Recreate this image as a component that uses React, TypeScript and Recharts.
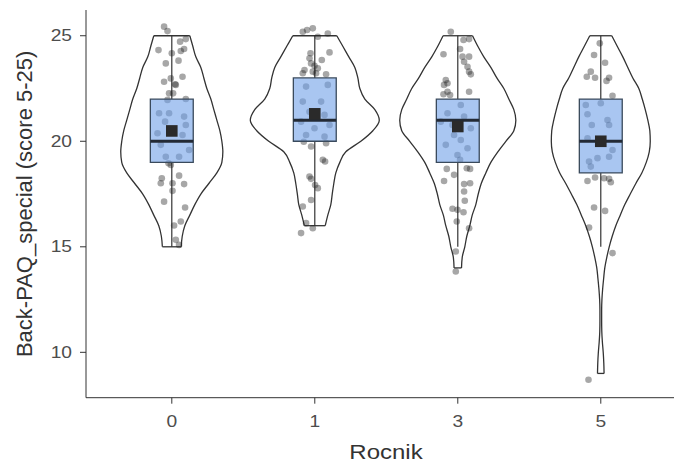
import {
  ComposedChart,
  Scatter,
  XAxis,
  YAxis,
  ReferenceLine,
  ReferenceArea,
  Label,
} from 'recharts'

const groups = ['0', '1', '3', '5']

// violin outlines: y levels and half widths (in category units)
const levels0 = [15, 15.5, 16, 16.5, 17, 17.5, 18, 18.5, 19, 19.5, 20, 20.5, 21, 21.5, 22, 22.5, 23, 23.5, 24, 24.5, 25]
const half0 = [0.066, 0.073, 0.091, 0.126, 0.161, 0.203, 0.259, 0.315, 0.35, 0.357, 0.35, 0.336, 0.315, 0.294, 0.273, 0.245, 0.224, 0.203, 0.168, 0.147, 0.126]

const levels1 = [16, 16.5, 17, 17.5, 18, 18.5, 19, 19.5, 20, 20.5, 21, 21.5, 22, 22.5, 23, 23.5, 24, 24.5, 25]
const half1 = [0.073, 0.091, 0.112, 0.122, 0.133, 0.147, 0.175, 0.217, 0.322, 0.406, 0.451, 0.42, 0.35, 0.315, 0.301, 0.28, 0.238, 0.196, 0.154]

const levels3 = [14, 14.5, 15, 15.5, 16, 16.5, 17, 17.5, 18, 18.5, 19, 19.5, 20, 20.5, 21, 21.5, 22, 22.5, 23, 23.5, 24, 24.5, 25]
const half3 = [0.026, 0.031, 0.049, 0.063, 0.084, 0.101, 0.126, 0.143, 0.164, 0.196, 0.231, 0.28, 0.336, 0.392, 0.406, 0.392, 0.357, 0.322, 0.273, 0.231, 0.182, 0.14, 0.103]

const levels5 = [9, 9.5, 10, 10.5, 11, 11.5, 12, 12.5, 13, 13.5, 14, 14.5, 15, 15.5, 16, 16.5, 17, 17.5, 18, 18.5, 19, 19.5, 20, 20.5, 21, 21.5, 22, 22.5, 23, 23.5, 24, 24.5, 25]
const half5 = [0.023, 0.021, 0.017, 0.011, 0.007, 0.006, 0.006, 0.008, 0.013, 0.02, 0.028, 0.042, 0.059, 0.08, 0.105, 0.136, 0.168, 0.206, 0.245, 0.287, 0.318, 0.339, 0.346, 0.343, 0.329, 0.311, 0.29, 0.266, 0.224, 0.189, 0.154, 0.115, 0.077]

// box plot stats
const boxQ1 = [19, 20, 19, 18.5]
const boxMedian = [20, 21, 21, 20]
const boxQ3 = [22, 23, 22, 22]
const whiskerLow = [15, 16, 15, 15]
const whiskerHigh = [25, 25, 25, 25]
const groupMeans = [20.49, 21.3, 20.7, 20.0]

// jittered observations: horizontal offset (category units) and score
const jitterDx0 = [-0.054, -0.03, 0.098, 0.058, -0.093, 0.086, 0.063, 0, -0.042, 0.047, -0.054, -0.007, 0.023, 0.075, -0.019, 0.009, 0.028, 0.098, -0.03, -0.089, -0.019, 0.086, -0.047, 0.098, -0.1, 0.075, -0.077, 0.121, -0.042, 0.051, -0.023, -0.007, -0.07, -0.077, 0.051, 0.005, 0.086, 0.005, -0.054, 0.093, 0.063, 0.016, 0.028, 0.051]
const jitterY0 = [25.43, 25.22, 24.84, 24.72, 24.32, 24.37, 24.28, 24.17, 23.69, 23.82, 22.82, 22.98, 22.7, 23.06, 22.27, 22.27, 22.67, 22.0, 21.96, 21.33, 21.33, 21.17, 20.93, 20.77, 20.38, 20.3, 19.83, 19.59, 19.27, 19.27, 18.96, 18.88, 18.25, 18.01, 18.37, 18.01, 17.97, 17.65, 17.14, 16.86, 16.2, 16.01, 15.33, 15.09]

const jitterDx1 = [-0.084, -0.054, -0.014, 0.091, 0.021, 0.103, -0.03, -0.037, 0.049, -0.026, -0.002, 0.021, -0.072, -0.014, 0.009, 0.079, -0.084, -0.061, 0.091, -0.084, 0.044, -0.037, 0.068, -0.096, 0.103, -0.002, -0.061, 0.068, -0.077, -0.026, 0.079, 0.056, 0.072, -0.037, -0.026, 0.002, 0.021, -0.026, -0.084, -0.061, -0.014, -0.096]
const jitterY1 = [25.19, 25.27, 25.35, 25.11, 24.95, 24.21, 24.17, 23.93, 23.85, 23.69, 23.58, 23.46, 23.38, 23.3, 23.22, 23.17, 23.22, 22.59, 22.67, 21.88, 21.88, 21.4, 21.25, 20.93, 20.77, 20.62, 20.3, 20.22, 19.98, 19.75, 19.91, 19.12, 19.04, 18.33, 18.22, 17.93, 17.78, 17.22, 16.91, 16.12, 15.88, 15.65]

const jitterDx3 = [-0.049, 0.079, 0.04, 0.016, -0.1, 0.033, 0.079, 0.044, 0.068, 0.079, 0.091, -0.084, -0.072, -0.096, -0.072, -0.1, -0.054, 0.079, 0.021, -0.072, 0.044, -0.119, -0.037, 0.091, -0.026, 0.021, -0.084, 0.068, -0.002, 0.016, -0.077, 0.063, 0.086, -0.026, -0.096, 0.044, 0.086, 0.044, 0.049, -0.037, -0.002, 0.04, -0.007, 0.079, -0.014, -0.014]
const jitterY3 = [25.19, 24.84, 24.8, 24.37, 24.12, 24.01, 24.01, 23.77, 23.53, 23.3, 23.17, 22.9, 22.75, 22.67, 22.35, 22.23, 22.19, 22.35, 21.72, 21.33, 21.17, 20.93, 20.77, 20.62, 20.3, 20.06, 19.83, 19.67, 19.35, 19.12, 18.69, 18.72, 18.69, 18.41, 18.12, 17.97, 18.01, 17.62, 17.18, 16.8, 16.75, 16.64, 16.2, 15.88, 14.78, 13.83]

const jitterDx5 = [-0.007, -0.047, 0.03, -0.07, -0.098, -0.04, 0.058, 0.04, 0.082, -0.105, 0, -0.093, 0.047, -0.063, 0.058, -0.093, 0.082, -0.023, 0.058, -0.082, -0.07, -0.093, -0.04, 0.023, 0.058, 0.07, -0.047, 0.03, -0.082, 0.082, -0.086]
const jitterY5 = [24.64, 24.09, 23.72, 23.3, 23.06, 23.01, 23.01, 22.86, 22.16, 21.72, 21.8, 21.28, 21.01, 20.77, 20.77, 20.14, 19.59, 19.2, 19.27, 19.04, 18.8, 18.12, 18.28, 18.25, 18.22, 18.06, 16.86, 16.7, 15.91, 14.7, 8.7]

const BOX_HALF = 0.15
const FONT = '"Liberation Sans", Arial, sans-serif'
const LINE = '#333333'
const STRETCH = 1.2 // text in the picture is a little wider than plain Arial

const violinLevels = [levels0, levels1, levels3, levels5]
const violinHalf = [half0, half1, half3, half5]
const jitterDx = [jitterDx0, jitterDx1, jitterDx3, jitterDx5]
const jitterY = [jitterY0, jitterY1, jitterY3, jitterY5]

const jitterPoints = groups.flatMap((_, g) =>
  jitterY[g].map((y, i) => ({ x: g + 1 + jitterDx[g][i], y }))
)
const meanPoints = groupMeans.map((y, g) => ({ x: g + 1, y }))

const Hidden = () => <g />

const wide = (x: number, y: number) =>
  `translate(${x} ${y}) scale(${STRETCH} 1) translate(${-x} ${-y})`

const XTick = ({ x, y, payload }: any) => (
  <text
    x={x}
    y={y}
    dy="0.71em"
    textAnchor="middle"
    transform={wide(x, y)}
    fill="#4d4d4d"
    fontSize={16}
    fontFamily={FONT}
  >
    {groups[payload.value - 1]}
  </text>
)

const YTick = ({ x, y, payload }: any) => (
  <text
    x={x}
    y={y}
    dy="0.355em"
    textAnchor="end"
    transform={wide(x, y)}
    fill="#4d4d4d"
    fontSize={16}
    fontFamily={FONT}
  >
    {payload.value}
  </text>
)

export default function App() {
  return (
    <div style={{ position: 'absolute', left: 0, top: 0, background: '#fff' }}>
      <ComposedChart width={674} height={463} margin={{ top: 10, right: 0, bottom: 0, left: 0 }}>
        <XAxis
          type="number"
          dataKey="x"
          domain={[0.4, 4.512]}
          allowDataOverflow
          ticks={[1, 2, 3, 4]}
          interval={0}
          height={65.3}
          tickSize={6}
          tickMargin={12}
          stroke={LINE}
          tick={XTick}
        >
          <Label
            content={({ viewBox }: any) => {
              const cx = viewBox.x + viewBox.width / 2 + 6
              const by = viewBox.y + viewBox.height - 4
              return (
                <text
                  x={cx}
                  y={by}
                  textAnchor="middle"
                  transform={wide(cx, by)}
                  fill="#333"
                  fontSize={20}
                  fontFamily={FONT}
                >
                  Rocnik
                </text>
              )
            }}
          />
        </XAxis>
        <YAxis
          type="number"
          dataKey="y"
          domain={[7.85, 26.22]}
          allowDataOverflow
          ticks={[10, 15, 20, 25]}
          interval={0}
          width={86}
          tickSize={6}
          tickMargin={8}
          stroke={LINE}
          tick={YTick}
        >
          <Label
            content={({ viewBox }: any) => {
              const cy = viewBox.y + viewBox.height / 2
              return (
                <text
                  x={32}
                  y={cy}
                  transform={`rotate(-90, 32, ${cy})`}
                  textAnchor="middle"
                  fill="#333"
                  fontSize={22}
                  fontFamily={FONT}
                >
                  Back-PAQ_special (score 5-25)
                </text>
              )
            }}
          />
        </YAxis>

        {groups.map((_, g) => (
          <Scatter
            key={`vl${g}`}
            data={violinLevels[g].map((y, i) => ({ x: g + 1 - violinHalf[g][i], y }))}
            line={{ stroke: LINE, strokeWidth: 1.3 }}
            lineType="joint"
            lineJointType="monotoneY"
            shape={Hidden}
            isAnimationActive={false}
            zIndex={600}
          />
        ))}
        {groups.map((_, g) => (
          <Scatter
            key={`vr${g}`}
            data={violinLevels[g].map((y, i) => ({ x: g + 1 + violinHalf[g][i], y }))}
            line={{ stroke: LINE, strokeWidth: 1.3 }}
            lineType="joint"
            lineJointType="monotoneY"
            shape={Hidden}
            isAnimationActive={false}
            zIndex={600}
          />
        ))}
        {groups.map((_, g) => {
          const lv = violinLevels[g]
          const hw = violinHalf[g]
          const top = lv.length - 1
          return [
            <ReferenceLine
              key={`vt${g}`}
              segment={[{ x: g + 1 - hw[top], y: lv[top] }, { x: g + 1 + hw[top], y: lv[top] }]}
              stroke={LINE}
              strokeWidth={1.3}
              zIndex={600}
            />,
            <ReferenceLine
              key={`vb${g}`}
              segment={[{ x: g + 1 - hw[0], y: lv[0] }, { x: g + 1 + hw[0], y: lv[0] }]}
              stroke={LINE}
              strokeWidth={1.3}
              zIndex={600}
            />,
          ]
        })}
        {groups.map((_, g) => [
          <ReferenceLine
            key={`wh${g}`}
            segment={[{ x: g + 1, y: boxQ3[g] }, { x: g + 1, y: whiskerHigh[g] }]}
            stroke={LINE}
            strokeWidth={1.2}
            zIndex={610}
          />,
          <ReferenceLine
            key={`wl${g}`}
            segment={[{ x: g + 1, y: whiskerLow[g] }, { x: g + 1, y: boxQ1[g] }]}
            stroke={LINE}
            strokeWidth={1.2}
            zIndex={610}
          />,
        ])}

        <Scatter
          data={jitterPoints}
          shape={(p: any) => <circle cx={p.cx} cy={p.cy} r={3.3} fill="#222" fillOpacity={0.4} />}
          isAnimationActive={false}
          zIndex={620}
        />

        {groups.map((_, g) => (
          <ReferenceArea
            key={`box${g}`}
            x1={g + 1 - BOX_HALF}
            x2={g + 1 + BOX_HALF}
            y1={boxQ1[g]}
            y2={boxQ3[g]}
            fill="#6fa0e8"
            fillOpacity={0.6}
            stroke="#3a4a5c"
            strokeWidth={1.3}
            strokeOpacity={1}
            zIndex={630}
          />
        ))}
        {groups.map((_, g) => (
          <ReferenceLine
            key={`med${g}`}
            segment={[{ x: g + 1 - BOX_HALF, y: boxMedian[g] }, { x: g + 1 + BOX_HALF, y: boxMedian[g] }]}
            stroke="#232a35"
            strokeWidth={3}
            zIndex={640}
          />
        ))}

        <Scatter
          data={meanPoints}
          shape={(p: any) => <rect x={p.cx - 5.8} y={p.cy - 5.8} width={11.6} height={11.6} fill="#2a2a2a" />}
          isAnimationActive={false}
          zIndex={650}
        />
      </ComposedChart>
    </div>
  )
}
